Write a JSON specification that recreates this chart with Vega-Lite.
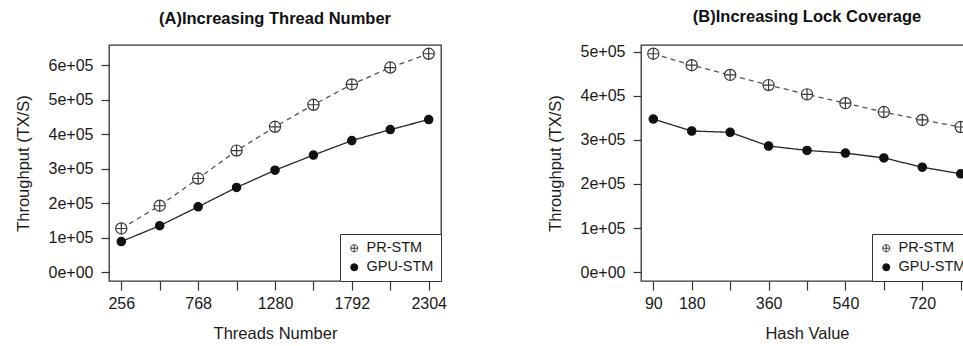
{
  "$schema": "https://vega.github.io/schema/vega-lite/v6.json",
  "background": "white",
  "padding": {"left": 14, "top": 8, "right": 0, "bottom": 0},
  "spacing": 98,
  "datasets": {
    "threads": [
      {"x": 256, "series": "PR-STM", "tps": 127000},
      {"x": 512, "series": "PR-STM", "tps": 193000},
      {"x": 768, "series": "PR-STM", "tps": 272000},
      {"x": 1024, "series": "PR-STM", "tps": 353000},
      {"x": 1280, "series": "PR-STM", "tps": 422000},
      {"x": 1536, "series": "PR-STM", "tps": 486000},
      {"x": 1792, "series": "PR-STM", "tps": 545000},
      {"x": 2048, "series": "PR-STM", "tps": 594000},
      {"x": 2304, "series": "PR-STM", "tps": 634000},
      {"x": 256, "series": "GPU-STM", "tps": 89000},
      {"x": 512, "series": "GPU-STM", "tps": 135000},
      {"x": 768, "series": "GPU-STM", "tps": 190000},
      {"x": 1024, "series": "GPU-STM", "tps": 246000},
      {"x": 1280, "series": "GPU-STM", "tps": 296000},
      {"x": 1536, "series": "GPU-STM", "tps": 340000},
      {"x": 1792, "series": "GPU-STM", "tps": 382000},
      {"x": 2048, "series": "GPU-STM", "tps": 414000},
      {"x": 2304, "series": "GPU-STM", "tps": 443000}
    ],
    "hash": [
      {"x": 90, "series": "PR-STM", "tps": 495000},
      {"x": 180, "series": "PR-STM", "tps": 469000},
      {"x": 270, "series": "PR-STM", "tps": 447000},
      {"x": 360, "series": "PR-STM", "tps": 424000},
      {"x": 450, "series": "PR-STM", "tps": 403000},
      {"x": 540, "series": "PR-STM", "tps": 383000},
      {"x": 630, "series": "PR-STM", "tps": 363000},
      {"x": 720, "series": "PR-STM", "tps": 345000},
      {"x": 810, "series": "PR-STM", "tps": 329000},
      {"x": 90, "series": "GPU-STM", "tps": 347000},
      {"x": 180, "series": "GPU-STM", "tps": 320000},
      {"x": 270, "series": "GPU-STM", "tps": 317000},
      {"x": 360, "series": "GPU-STM", "tps": 286000},
      {"x": 450, "series": "GPU-STM", "tps": 276000},
      {"x": 540, "series": "GPU-STM", "tps": 270000},
      {"x": 630, "series": "GPU-STM", "tps": 259000},
      {"x": 720, "series": "GPU-STM", "tps": 238000},
      {"x": 810, "series": "GPU-STM", "tps": 223000}
    ]
  },
  "hconcat": [
    {
      "width": 332,
      "height": 236,
      "title": {"text": "(A)Increasing Thread Number"},
      "data": {"name": "threads"},
      "encoding": {
        "x": {
          "field": "x", "type": "quantitative",
          "scale": {"domain": [174.08, 2385.92], "nice": false, "zero": false},
          "axis": {
            "title": "Threads Number",
            "values": [256, 512, 768, 1024, 1280, 1536, 1792, 2048, 2304],
            "format": "d",
            "labelExpr": "indexof([256, 768, 1280, 1792, 2304], datum.value) >= 0 ? datum.label : ''"
          }
        },
        "y": {
          "field": "tps", "type": "quantitative",
          "scale": {"domain": [-25400, 659400], "nice": false, "zero": false},
          "axis": {
            "title": "Throughput (TX/S)",
            "values": [0, 100000, 200000, 300000, 400000, 500000, 600000],
            "labelExpr": "datum.value == 0 ? '0e+00' : format(datum.value / 100000, 'd') + 'e+05'"
          }
        }
      },
      "layer": [
        {
          "mark": {"type": "line", "strokeWidth": 1.3},
          "encoding": {
            "strokeDash": {"field": "series", "type": "nominal", "scale": {"domain": ["GPU-STM", "PR-STM"], "range": [[1, 0], [5, 4]]}, "legend": null},
            "color": {"field": "series", "type": "nominal", "scale": {"domain": ["GPU-STM", "PR-STM"], "range": ["#262626", "#555555"]}, "legend": null}
          }
        },
        {
          "mark": {"type": "point", "filled": true, "opacity": 1, "strokeWidth": 1.2},
          "encoding": {
            "shape": {"field": "series", "type": "nominal", "title": null, "scale": {"domain": ["PR-STM", "GPU-STM"], "range": ["M-1,0A1,1,0,1,1,1,0A1,1,0,1,1,-1,0ZM-1,0L1,0M0,-1L0,1", "circle"]}},
            "fill": {"field": "series", "type": "nominal", "title": null, "scale": {"domain": ["PR-STM", "GPU-STM"], "range": ["#ffffff", "#111111"]}},
            "stroke": {"field": "series", "type": "nominal", "title": null, "scale": {"domain": ["PR-STM", "GPU-STM"], "range": ["#3a3a3a", "#111111"]}},
            "size": {"field": "series", "type": "nominal", "scale": {"domain": ["GPU-STM", "PR-STM"], "range": [70, 125]}, "legend": null}
          }
        }
      ]
    },
    {
      "width": 332,
      "height": 236,
      "title": {"text": "(B)Increasing Lock Coverage"},
      "data": {"name": "hash"},
      "encoding": {
        "x": {
          "field": "x", "type": "quantitative",
          "scale": {"domain": [61.2, 838.8], "nice": false, "zero": false},
          "axis": {
            "title": "Hash Value",
            "values": [90, 180, 270, 360, 450, 540, 630, 720, 810],
            "format": "d",
            "labelExpr": "indexof([90, 180, 360, 540, 720], datum.value) >= 0 ? datum.label : ''"
          }
        },
        "y": {
          "field": "tps", "type": "quantitative",
          "scale": {"domain": [-19800, 514800], "nice": false, "zero": false},
          "axis": {
            "title": "Throughput (TX/S)",
            "values": [0, 100000, 200000, 300000, 400000, 500000],
            "labelExpr": "datum.value == 0 ? '0e+00' : format(datum.value / 100000, 'd') + 'e+05'"
          }
        }
      },
      "layer": [
        {
          "mark": {"type": "line", "strokeWidth": 1.3},
          "encoding": {
            "strokeDash": {"field": "series", "type": "nominal", "scale": {"domain": ["GPU-STM", "PR-STM"], "range": [[1, 0], [5, 4]]}, "legend": null},
            "color": {"field": "series", "type": "nominal", "scale": {"domain": ["GPU-STM", "PR-STM"], "range": ["#262626", "#555555"]}, "legend": null}
          }
        },
        {
          "mark": {"type": "point", "filled": true, "opacity": 1, "strokeWidth": 1.2},
          "encoding": {
            "shape": {"field": "series", "type": "nominal", "title": null, "scale": {"domain": ["PR-STM", "GPU-STM"], "range": ["M-1,0A1,1,0,1,1,1,0A1,1,0,1,1,-1,0ZM-1,0L1,0M0,-1L0,1", "circle"]}},
            "fill": {"field": "series", "type": "nominal", "title": null, "scale": {"domain": ["PR-STM", "GPU-STM"], "range": ["#ffffff", "#111111"]}},
            "stroke": {"field": "series", "type": "nominal", "title": null, "scale": {"domain": ["PR-STM", "GPU-STM"], "range": ["#3a3a3a", "#111111"]}},
            "size": {"field": "series", "type": "nominal", "scale": {"domain": ["GPU-STM", "PR-STM"], "range": [70, 125]}, "legend": null}
          }
        }
      ]
    }
  ],
  "resolve": {
    "scale": {"x": "independent", "y": "independent", "shape": "independent", "fill": "independent", "stroke": "independent", "size": "independent", "color": "independent", "strokeDash": "independent"}
  },
  "config": {
    "font": "Liberation Sans",
    "view": {"stroke": "#333333", "strokeWidth": 1.3},
    "title": {"fontSize": 16.5, "fontWeight": "bold", "color": "#111111", "anchor": "middle", "baseline": "alphabetic", "offset": 18},
    "axis": {
      "grid": false,
      "domain": false,
      "tickColor": "#333333",
      "tickWidth": 1.2,
      "tickSize": 8,
      "labelFontSize": 16,
      "labelColor": "#1a1a1a",
      "titleFontSize": 16.5,
      "titleFontWeight": "normal",
      "titleColor": "#1a1a1a"
    },
    "axisX": {"tickSize": 9, "labelPadding": 5, "titlePadding": 14, "labelFlush": false, "labelOverlap": false},
    "axisY": {"labelPadding": 8, "titlePadding": 17, "labelOverlap": false},
    "legend": {
      "orient": "bottom-right",
      "offset": 0,
      "strokeColor": "#333333",
      "fillColor": "#ffffff",
      "padding": 7,
      "labelFontSize": 14.5,
      "labelColor": "#1a1a1a",
      "labelOffset": 5,
      "symbolSize": 50,
      "symbolStrokeWidth": 1,
      "rowPadding": 4,
      "cornerRadius": 0
    }
  }
}
